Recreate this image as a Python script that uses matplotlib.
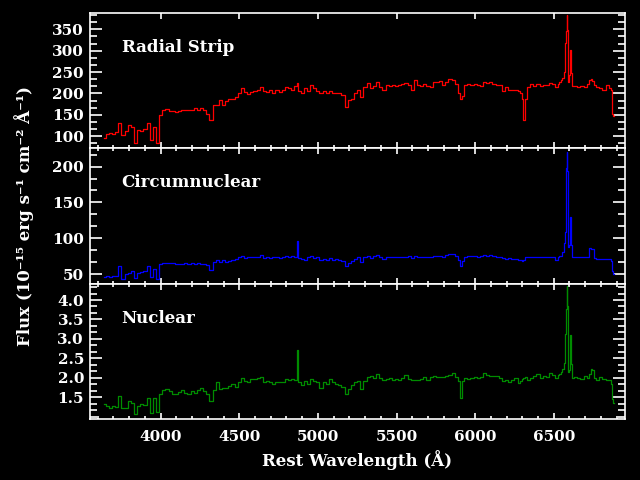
import numpy as np
import matplotlib
matplotlib.use("Agg")
import matplotlib.pyplot as plt
from matplotlib.ticker import MultipleLocator, FixedLocator

# rest wavelength grid (A) and fluxes
wave = [3640, 3660, 3680, 3700, 3720, 3740, 3760, 3780, 3800, 3820, 3840, 3860, 3880, 3900, 3920, 3940, 3960, 3980,
        4000, 4020, 4040, 4060, 4080, 4100, 4120, 4140, 4160, 4180, 4200, 4220, 4240, 4260, 4280, 4300, 4320, 4340,
        4360, 4380, 4400, 4420, 4440, 4460, 4480,
        4500, 4520, 4540, 4560, 4580, 4600, 4620, 4640, 4660, 4680, 4700, 4720, 4740, 4760, 4780, 4800, 4820, 4840, 4860,
        4870, 4880, 4900, 4920, 4940, 4960, 4980, 5000, 5020, 5040, 5060, 5080, 5100, 5120, 5140, 5160, 5180, 5200,
        5220, 5240, 5260,
        5280, 5300, 5320, 5340, 5360, 5380, 5400, 5420, 5440, 5460, 5480, 5500, 5520, 5540, 5560, 5580, 5600, 5620,
        5640, 5660, 5680, 5700, 5720, 5740, 5760, 5780, 5800, 5820, 5840, 5860, 5880, 5900,
        5910, 5920, 5940, 5960, 5980, 6000, 6020, 6040, 6060, 6080, 6100, 6120, 6140, 6160, 6180, 6200, 6220, 6240,
        6260, 6280, 6290, 6300, 6310,
        6320, 6340, 6360, 6380, 6400, 6420, 6440, 6460, 6480, 6500, 6520, 6530, 6540, 6550, 6560, 6570,
        6575, 6580, 6585, 6590, 6595, 6600, 6605, 6610, 6615, 6620,
        6640, 6660, 6680, 6700, 6720, 6730, 6740, 6750, 6760, 6780, 6800, 6820, 6840, 6860, 6870, 6875, 6885]

flux_strip = [97, 105, 108, 106, 110, 132, 102, 112, 126, 122, 84, 114, 112, 118, 131, 91, 122, 84,
              150, 161, 163, 159, 159, 157, 159, 162, 161, 162, 161, 165, 162, 165, 161, 152, 137, 173,
              174, 184, 173, 183, 188, 186, 191,
              202, 212, 204, 198, 204, 206, 208, 214, 205, 204, 209, 202, 208, 204, 209, 214, 212, 209, 217,
              224, 205, 200, 212, 206, 220, 212, 205, 202, 206, 202, 206, 200, 202, 200, 196, 169, 184,
              188, 200, 209,
              191, 214, 225, 212, 217, 227, 216, 208, 220, 217, 220, 217, 220, 222, 225, 220, 209, 231,
              220, 217, 222, 217, 216, 227, 227, 230, 220, 227, 233, 231, 222, 202,
              188, 194, 220, 222, 220, 222, 220, 217, 227, 225, 227, 223, 220, 220, 206, 214, 209, 209,
              208, 206, 202, 188, 137,
              188, 214, 222, 217, 222, 217, 220, 220, 225, 222, 216, 223, 227, 231, 235, 251,
              317, 347, 384, 348, 227, 243, 302, 300, 247, 217,
              217, 216, 217, 214, 222, 231, 233, 230, 220, 216, 212, 208, 220, 212, 208, 153, 147]

flux_circ = [45.8, 46.8, 46.3, 46.8, 46.8, 60.6, 43.5, 50, 51.4, 53.7, 44.4, 51.4, 52.3, 54.6, 60.6, 45.8, 57.4, 43,
             63.9, 65.7, 65.7, 65.3, 65.3, 63.9, 64.4, 64.4, 64.8, 64.4, 65.3, 64.4, 65.3, 64.4, 63.9, 62, 56, 66.7,
             69.9, 66.7, 69, 66.7, 68.5, 69.9, 71.3,
             73.2, 75.9, 72.2, 73.2, 73.2, 73.2, 74, 76.9, 72.2, 73.6, 72.2, 73.2, 74, 72.2, 74.5, 75.5, 74.5, 75, 74.5,
             96.3, 72.2, 71.3, 69.9, 73.2, 75.5, 72.2, 73.2, 69.9, 71.3, 69.9, 72.2, 69.9, 71.3, 69.9, 67.6, 60.6, 65.7,
             68.5, 71.3, 73.2,
             66.7, 73.2, 75.9, 72.2, 75.5, 76.9, 73.2, 71.3, 74, 73.2, 74, 73.6, 74, 74.5, 74, 75.5, 72.2, 75.9,
             74, 73.2, 74, 73.2, 74, 75.9, 75.5, 75.9, 74, 76.9, 78.7, 77.8, 75.9, 69.9,
             60.6, 68.5, 74.5, 75.5, 75, 75.5, 74.5, 75, 76.9, 75.9, 76.9, 75, 74, 74, 72.2, 71.3, 72.2, 71.3,
             70.4, 69.5, 69.5, 67.6, 69.9,
             73.2, 73.2, 74, 74.5, 74.5, 73.6, 73.6, 74, 73.6, 74, 69.9, 73.2, 75.5, 75.9, 80.6, 93,
             109.3, 198, 220, 193.5, 88.4, 90.7, 130, 130, 90.7, 74,
             73.2, 73.2, 73.6, 73.2, 73.2, 87, 85.2, 84.3, 72.2, 71.3, 71.3, 71.3, 71.3, 70.4, 67.6, 54.6, 50]

flux_nuc = [1.32, 1.28, 1.23, 1.28, 1.25, 1.53, 1.22, 1.22, 1.41, 1.36, 1.06, 1.28, 1.32, 1.30, 1.49, 1.10, 1.49, 1.13,
            1.59, 1.68, 1.71, 1.65, 1.58, 1.58, 1.64, 1.68, 1.62, 1.59, 1.65, 1.62, 1.68, 1.75, 1.66, 1.59, 1.41, 1.68,
            1.90, 1.71, 1.73, 1.75, 1.79, 1.84, 1.77,
            1.88, 1.99, 1.92, 1.90, 1.96, 1.96, 1.99, 2.01, 1.90, 1.92, 1.88, 1.85, 1.90, 1.88, 1.90, 1.96, 1.94, 1.96, 1.94,
            2.71, 1.88, 1.82, 1.92, 1.85, 1.96, 1.92, 1.88, 1.75, 1.88, 1.84, 1.96, 1.88, 1.84, 1.82, 1.77, 1.58, 1.71,
            1.82, 1.88, 1.92,
            1.71, 1.92, 2.01, 2.05, 1.99, 2.11, 1.99, 1.94, 1.98, 1.99, 1.94, 1.96, 1.95, 1.99, 2.08, 1.96, 1.94, 1.95,
            1.95, 1.96, 2.01, 1.95, 2.02, 2.05, 2.03, 2.01, 2.01, 2.05, 2.08, 2.13, 2.01, 1.92,
            1.49, 1.92, 1.99, 1.98, 1.99, 2.01, 1.99, 2.01, 2.13, 2.06, 2.05, 2.05, 2.04, 1.99, 1.92, 1.95, 1.90, 1.94,
            1.99, 1.87, 1.92, 1.96, 1.99,
            2.01, 1.95, 1.99, 2.05, 2.11, 1.99, 2.05, 2.01, 2.13, 2.06, 1.99, 2.08, 2.11, 2.14, 2.22, 2.39,
            3.12, 3.77, 4.37, 3.85, 2.14, 2.20, 3.11, 3.11, 2.35, 1.99,
            2.02, 1.99, 1.96, 2.05, 1.99, 2.09, 2.22, 2.19, 1.99, 1.94, 2.02, 1.96, 1.94, 1.94, 1.84, 1.45, 1.36]

names = ["Radial Strip", "Circumnuclear", "Nuclear"]
colors = ["#ff0000", "#0000ff", "#008c00"]
ylims = [(72, 388), (36.6, 225.5), (0.94, 4.42)]

plt.rcParams['font.family'] = ['DejaVu Serif']
plt.rcParams['font.weight'] = 'bold'
plt.rcParams['axes.labelweight'] = 'bold'

fig = plt.figure(figsize=(6.4, 4.8), dpi=100, facecolor="black")
gs = fig.add_gridspec(3, 1, left=0.14, right=0.977, top=0.973, bottom=0.127, hspace=0)

fluxes = [flux_strip, flux_circ, flux_nuc]
for i in range(3):
    ax = fig.add_subplot(gs[i])
    ax.set_facecolor("black")
    ax.plot(wave, fluxes[i], color=colors[i], lw=0.9, drawstyle="steps-mid")
    ax.set_xlim(3548, 6955)
    ax.set_ylim(*ylims[i])
    ax.xaxis.set_major_locator(MultipleLocator(500))
    ax.xaxis.set_minor_locator(MultipleLocator(100))
    if i < 2:
        ax.yaxis.set_major_locator(MultipleLocator(50))
        ax.yaxis.set_minor_locator(MultipleLocator(50 / 3))
    else:
        ax.yaxis.set_major_locator(FixedLocator([1.5, 2.0, 2.5, 3.0, 3.5, 4.0]))
        ax.yaxis.set_minor_locator(MultipleLocator(0.5 / 3))
        ax.yaxis.set_major_formatter(plt.FormatStrFormatter("%.1f"))
    for s in ax.spines.values():
        s.set_color("white")
        s.set_linewidth(1.2)
    ax.tick_params(axis="both", which="both", direction="in", colors="white",
                   top=True, right=True, labelsize=11, width=1.2)
    ax.tick_params(axis="y", which="major", length=8.5, pad=4)
    ax.tick_params(axis="y", which="minor", length=5)
    ax.tick_params(axis="x", which="major", length=4.5, pad=8)
    ax.tick_params(axis="x", which="minor", length=2.3)
    if i == 0:
        ax.tick_params(axis="x", which="minor", top=False)
        ax.tick_params(axis="x", which="major", top=True)
    if i < 2:
        ax.tick_params(axis="x", labelbottom=False)
    ax.text(0.06, 0.713, names[i], transform=ax.transAxes, color="white",
            fontsize=12, fontweight="bold", va="baseline", ha="left")
    if i == 2:
        ax.set_xlabel("Rest Wavelength (Å)", color="white", fontsize=12,
                      fontweight="bold", labelpad=4)

fig.text(0.038, 0.55, "Flux (10⁻¹⁵ erg s⁻¹ cm⁻² Å⁻¹)", rotation=90, color="white",
         fontsize=12, fontweight="bold", ha="center", va="center")

fig.savefig("out.png", dpi=100, facecolor="black")
